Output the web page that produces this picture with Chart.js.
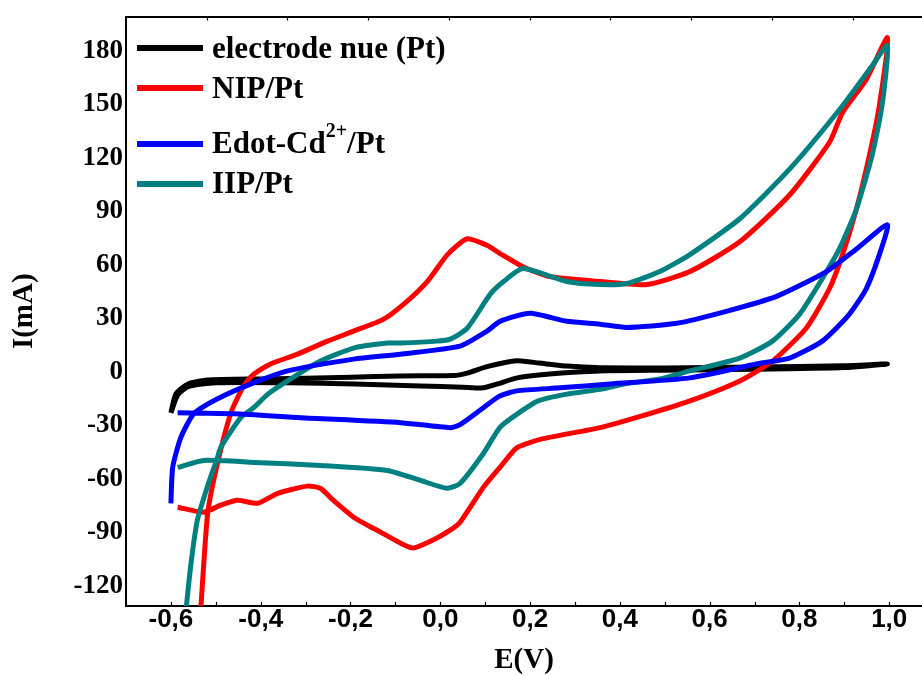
<!DOCTYPE html>
<html>
<head>
<meta charset="utf-8">
<script src="https://cdn.jsdelivr.net/npm/chart.js@4.4.1/dist/chart.umd.min.js"></script>
<style>
  html, body { margin: 0; padding: 0; background: #fff; }
  #wrap { width: 922px; height: 675px; position: relative; }
</style>
</head>
<body>
<div id="wrap"><canvas id="c" width="922" height="675"></canvas></div>
<script>
// ---- data (E in V, I in mA), ordered along the potential scan ----
const seriesNames = ["electrode nue (Pt)", "NIP/Pt", "Edot-Cd", "IIP/Pt"];
const seriesColors = ["#000000", "#ff0000", "#0000ff", "#008080"];

const bareE = [-0.600, -0.589, -0.562, -0.518, -0.40, -0.20, -0.089, 0.030, 0.060, 0.104, 0.171, 0.220, 0.282, 0.356, 0.50, 0.70, 0.90, 0.996,
               0.90, 0.70, 0.50, 0.356, 0.250, 0.171, 0.130, 0.096, 0.050, -0.044, -0.190, -0.340, -0.500, -0.560, -0.585, -0.600];
const bareI = [-22.9, -12.3, -6.7, -4.5, -3.9, -3.0, -2.2, -2.0, -0.6, 3.0, 6.3, 5.0, 3.3, 2.4, 2.3, 2.8, 3.5, 4.5,
               2.5, 1.5, 1.0, 0.6, -1.0, -3.3, -6.5, -8.9, -8.5, -7.8, -6.7, -6.0, -6.0, -8.0, -13.0, -22.9];

const nipE = [-0.536, -0.533, -0.518, -0.496, -0.467, -0.444, -0.430, -0.415, -0.378, -0.318, -0.251, -0.193, -0.127, -0.082, -0.029, 0.016, 0.060, 0.104, 0.133, 0.184, 0.244, 0.356, 0.460, 0.556, 0.667, 0.778, 0.867, 0.896, 0.949, 0.996,
              0.978, 0.956, 0.927, 0.896, 0.867, 0.815, 0.740, 0.667, 0.556, 0.451, 0.356, 0.229, 0.171, 0.133, 0.096, 0.044, 0.022, -0.016, -0.060, -0.089, -0.133, -0.162, -0.193, -0.238, -0.267, -0.296, -0.362, -0.407, -0.452, -0.489, -0.527, -0.585];
const nipI = [-140, -131, -79, -51, -23.4, -10.6, -5.0, -1.1, 4.5, 10.0, 17.3, 22.9, 29.5, 37.9, 50.7, 65.8, 74.7, 71.0, 66.4, 59.0, 53.5, 50.7, 49.0, 56.3, 73.0, 99.2, 128.8, 145.5, 164.0, 187.4,
              149.4, 121.6, 91.4, 65.8, 46.8, 24.5, 6.1, -5.0, -16.2, -24.5, -31.2, -37.4, -42.4, -53.5, -64.7, -84.2, -88.7, -94.2, -98.7, -95.9, -89.8, -85.9, -81.4, -72.0, -65.2, -64.0, -68.0, -73.6, -71.9, -74.7, -78.6, -75.8];

const edotE = [-0.600, -0.596, -0.578, -0.549, -0.496, -0.420, -0.340, -0.193, -0.089, 0.044, 0.104, 0.133, 0.200, 0.282, 0.356, 0.415, 0.527, 0.637, 0.749, 0.860, 0.927, 0.996,
               0.978, 0.949, 0.911, 0.851, 0.778, 0.704, 0.556, 0.378, 0.267, 0.171, 0.133, 0.096, 0.044, 0.022, -0.089, -0.311, -0.460, -0.585];
const edotI = [-73.6, -53.5, -36.8, -23.4, -15.0, -6.5, 0.6, 7.2, 10.0, 14.5, 22.9, 28.4, 32.9, 28.4, 26.8, 25.0, 27.3, 34.0, 42.4, 56.3, 69.0, 82.5,
               65.8, 46.8, 32.3, 17.3, 7.8, 4.5, -3.3, -6.7, -8.9, -10.6, -13.4, -20.0, -29.5, -31.2, -28.4, -25.6, -23.4, -22.9];

const iipE = [-0.569, -0.556, -0.541, -0.519, -0.496, -0.489, -0.444, -0.415, -0.384, -0.340, -0.267, -0.193, -0.118, -0.089, -0.007, 0.022, 0.060, 0.111, 0.141, 0.184, 0.282, 0.356, 0.415, 0.489, 0.556, 0.667, 0.778, 0.889, 0.962, 0.996,
              0.984, 0.962, 0.927, 0.889, 0.851, 0.800, 0.740, 0.667, 0.556, 0.489, 0.415, 0.356, 0.282, 0.218, 0.171, 0.133, 0.096, 0.044, 0.015, -0.044, -0.118, -0.267, -0.415, -0.527, -0.585];
const iipI = [-140, -109, -83, -64.5, -47.8, -42.2, -25.5, -19.9, -12.4, -5.0, 6.1, 13.4, 16.2, 16.2, 17.3, 18.4, 24.5, 43.5, 50.7, 58.0, 50.7, 49.0, 49.6, 56.3, 65.8, 85.9, 113.7, 147.0, 171.7, 183.0,
              149.4, 121.6, 91.4, 69.0, 52.4, 32.3, 17.3, 7.8, 0.6, -3.9, -6.5, -9.7, -12.4, -16.2, -23.6, -31.0, -45.7, -62.5, -65.2, -60.8, -55.2, -52.4, -50.7, -49.6, -53.5];

// tick values
const xTickValues = [-0.6, -0.4, -0.2, 0.0, 0.2, 0.4, 0.6, 0.8, 1.0];
const xMinorTickValues = [-0.7, -0.6, -0.5, -0.4, -0.3, -0.2, -0.1, 0.0, 0.1, 0.2, 0.3, 0.4, 0.5, 0.6, 0.7, 0.8, 0.9, 1.0];
const yTickValues = [-120, -90, -60, -30, 0, 30, 60, 90, 120, 150, 180];
const topTickValues = [1, 2, 3, 4, 5, 6, 7, 8, 9];

function zip(xs, ys) {
  const n = Math.min(xs.length, ys.length);
  const out = [];
  for (let i = 0; i < n; i++) out.push({ x: xs[i], y: ys[i] });
  return out;
}

const SERIF = "'Liberation Serif', 'Times New Roman', serif";
const SANS = "'Liberation Sans', Arial, sans-serif";

function ds(label, xs, ys, color, order) {
  return {
    label: label,
    data: zip(xs, ys),
    borderColor: color,
    backgroundColor: color,
    borderWidth: 5,
    pointRadius: 0,
    showLine: true,
    fill: false,
    tension: 0.2,
    order: order,
    clip: { left: 4, right: 4, top: 4, bottom: 0 }
  };
}

// inward minor tick marks and the top frame ticks
const tickMarks = {
  id: 'tickMarks',
  afterDraw(chart) {
    const ctx = chart.ctx;
    const x = chart.scales.x, x2 = chart.scales.x2;
    const area = chart.chartArea;
    ctx.save();
    ctx.strokeStyle = '#000';
    ctx.lineWidth = 1.2;
    xMinorTickValues.forEach(v => {
      const px = Math.round(x.getPixelForValue(v)) + 0.5;
      ctx.beginPath();
      ctx.moveTo(px, area.bottom);
      ctx.lineTo(px, area.bottom - 4);
      ctx.stroke();
    });
    topTickValues.forEach(v => {
      const px = Math.round(x2.getPixelForValue(v)) + 0.5;
      ctx.beginPath();
      ctx.moveTo(px, area.top);
      ctx.lineTo(px, area.top + 4);
      ctx.stroke();
    });
    ctx.restore();
  }
};

// legend drawn as text (for the superscript in "Cd2+")
const customLegend = {
  id: 'customLegend',
  afterDraw(chart) {
    const ctx = chart.ctx;
    const rows = [
      { y: 48, base: 58 },
      { y: 88, base: 98 },
      { y: 144, base: 153 },
      { y: 184, base: 193 }
    ];
    ctx.save();
    ctx.textAlign = 'left';
    ctx.textBaseline = 'alphabetic';
    ctx.fillStyle = '#000';
    rows.forEach((r, i) => {
      ctx.strokeStyle = seriesColors[i];
      ctx.lineWidth = 6;
      ctx.beginPath();
      ctx.moveTo(137, r.y);
      ctx.lineTo(203, r.y);
      ctx.stroke();
      ctx.font = 'bold 31px ' + SERIF;
      let tx = 212;
      ctx.fillText(seriesNames[i], tx, r.base);
      if (i === 2) {
        tx += ctx.measureText(seriesNames[i]).width;
        ctx.font = 'bold 20px ' + SERIF;
        ctx.fillText('2+', tx, r.base - 16);
        tx += ctx.measureText('2+').width;
        ctx.font = 'bold 31px ' + SERIF;
        ctx.fillText('/Pt', tx, r.base);
      }
    });
    ctx.restore();
  }
};

new Chart(document.getElementById('c'), {
  type: 'scatter',
  data: {
    datasets: [
      ds(seriesNames[0], bareE, bareI, seriesColors[0], 4),
      ds(seriesNames[1], nipE, nipI, seriesColors[1], 3),
      ds('Edot-Cd2+/Pt', edotE, edotI, seriesColors[2], 1),
      ds(seriesNames[3], iipE, iipI, seriesColors[3], 2)
    ]
  },
  options: {
    responsive: false,
    animation: false,
    layout: { padding: { top: 14, right: 0, left: 0, bottom: 0 } },
    plugins: { legend: { display: false }, tooltip: { enabled: false } },
    scales: {
      x: {
        type: 'linear',
        position: 'bottom',
        min: -0.7,
        max: 1.073,
        afterFit(s) { s.height = 69; },
        afterBuildTicks(s) { s.ticks = xTickValues.map(v => ({ value: v })); },
        grid: { display: false, drawTicks: false },
        border: { display: true, color: '#000', width: 2 },
        ticks: {
          color: '#000',
          padding: 1,
          maxRotation: 0,
          autoSkip: false,
          font: { family: SANS, size: 26, weight: 'bold', lineHeight: 1 },
          callback(v) {
            if (Math.abs(v) < 1e-9) v = 0;
            return v.toFixed(1).replace('.', ',');
          }
        },
        title: {
          display: true,
          text: 'E(V)',
          color: '#000',
          padding: { top: 0, bottom: 0 },
          font: { family: SERIF, size: 29, weight: 'bold', lineHeight: 1 }
        }
      },
      x2: {
        type: 'linear',
        position: 'top',
        min: 0,
        max: 9.86,
        afterFit(s) { s.height = 0; },
        grid: { display: false, drawTicks: false },
        border: { display: true, color: '#000', width: 2 },
        ticks: { display: false }
      },
      y: {
        type: 'linear',
        position: 'left',
        min: -131.2,
        max: 199.3,
        afterFit(s) { s.width = 126; },
        afterBuildTicks(s) { s.ticks = yTickValues.map(v => ({ value: v })); },
        grid: { display: false, drawTicks: false },
        border: { display: true, color: '#000', width: 2 },
        ticks: {
          color: '#000',
          padding: 3,
          autoSkip: false,
          font: { family: SERIF, size: 27, weight: 'bold', lineHeight: 1 },
          callback(v) { return String(Math.round(v)); }
        },
        title: {
          display: true,
          text: 'I(mA)',
          color: '#000',
          padding: { top: 10, bottom: 0 },
          font: { family: SERIF, size: 29, weight: 'bold', lineHeight: 1 }
        }
      }
    }
  },
  plugins: [tickMarks, customLegend]
});
</script>
</body>
</html>
